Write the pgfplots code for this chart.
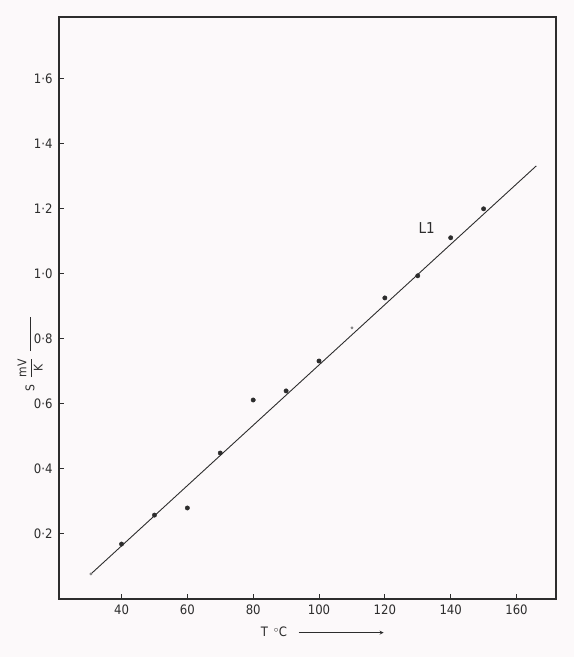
\documentclass[border=0pt]{standalone}
\usepackage{pgfplots}
\pgfplotsset{compat=1.18}
\usepackage{fontspec}
\setmainfont{DejaVu Sans Condensed}
\definecolor{paper}{RGB}{252,249,250}
\definecolor{ink}{RGB}{45,45,45}
\pagecolor{paper}

\begin{document}
\begin{tikzpicture}
\begin{axis}[
  scale only axis, width=497pt, height=582pt,
  xmin=21, xmax=172, ymin=0, ymax=1.79,
  axis line style={ink, line width=1.1pt},
  xtick={40,60,...,160},
  xticklabels={40,60,80,100,120,140,160},
  ytick={0.2,0.4,...,1.6},
  yticklabels={0·2,0·4,0·6,0·8,1·0,1·2,1·4,1·6},
  xtick pos=left, ytick pos=left,
  tick align=inside, major tick length=5pt,
  tick style={ink, line width=1pt},
  ticklabel style={font=\fontsize{13}{15}\selectfont, text=ink},
  xticklabel style={yshift=-2pt},
  yticklabel style={xshift=-3pt},
  xlabel={T \,$^{\circ}$C\ \ \ \tikz[baseline=-0.6ex]\draw[ink,line width=0.8pt,-stealth](0,0)--(85pt,0);},
  xlabel style={at={(axis description cs:0.53,-0.057)}, anchor=center, font=\fontsize{13}{15}\selectfont, text=ink},
  ylabel={S \ $\displaystyle\frac{\mathrm{mV}}{\mathrm{K}}$\ \ \rule[0.5ex]{34pt}{0.9pt}},
  ylabel style={at={(axis description cs:-0.058,0.42)}, anchor=center, font=\fontsize{12}{14}\selectfont, text=ink},
  clip=false,
]
% fitted line L1
\addplot[ink, line width=0.9pt] coordinates {(30.7,0.077) (166,1.332)};
% measured points
\addplot[only marks, mark=*, mark size=2.2pt, ink] coordinates {
  (40,0.169) (50,0.258) (60,0.280) (70,0.449) (80,0.612) (90,0.640)
  (100,0.732) (120,0.926) (130,0.994) (140,1.111) (150,1.200)
};
\addplot[only marks, mark=*, mark size=1.2pt, ink!60] coordinates {(110,0.834) (30.7,0.077)};
\node[font=\fontsize{15}{17}\selectfont, text=ink] at (axis cs:132.7,1.14) {L1};
\end{axis}
\pgfresetboundingbox
\path[use as bounding box] ([shift={(-59pt,-58pt)}]current axis.south west) rectangle ([shift={(18pt,17pt)}]current axis.north east);
\end{tikzpicture}
\end{document}
